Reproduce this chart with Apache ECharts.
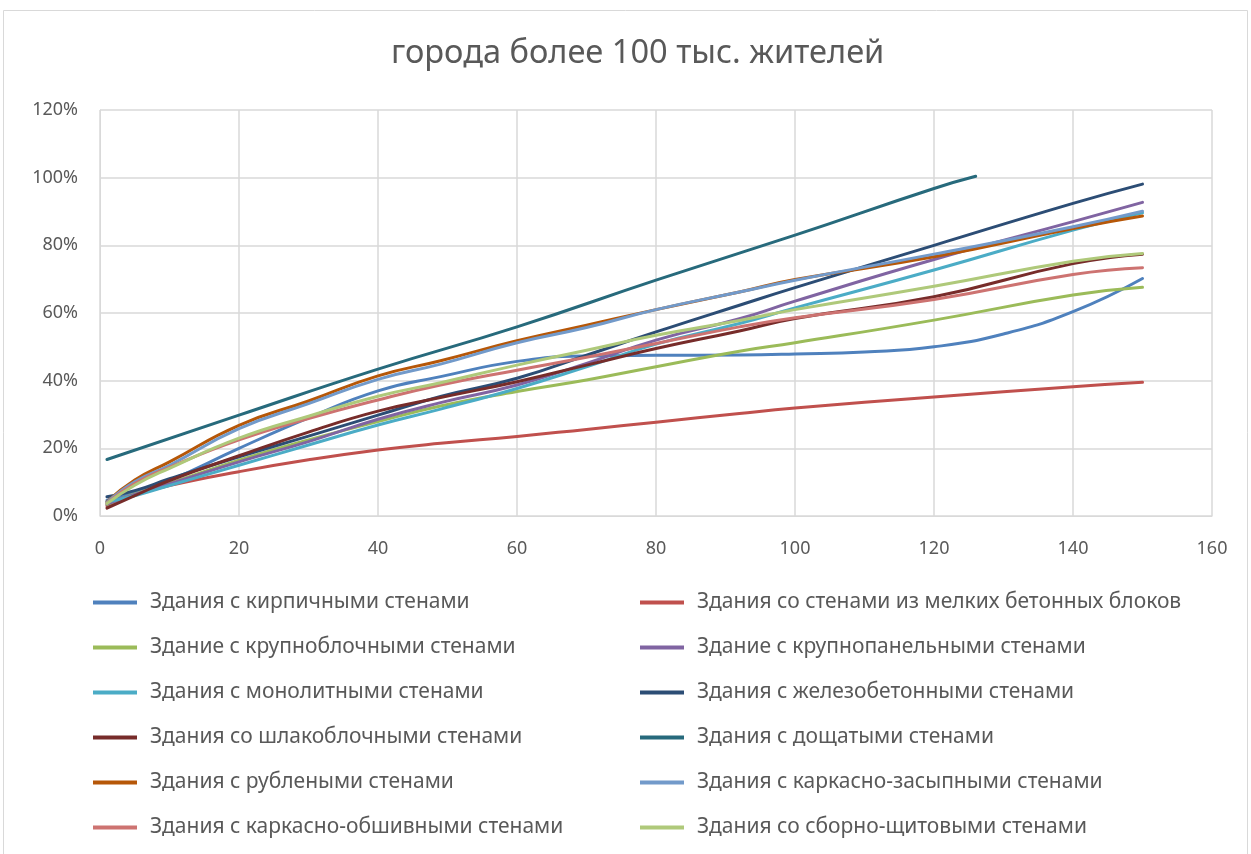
<!DOCTYPE html>
<html><head><meta charset="utf-8">
<script src="https://cdn.jsdelivr.net/npm/echarts@6/dist/echarts.min.js"></script>
<style>html,body{margin:0;padding:0;background:#fff}#c{width:1251px;height:854px}</style>
</head><body><div id="c"></div>
<script>
const titleText = "города более 100 тыс. жителей";
const xTicks = [0, 20, 40, 60, 80, 100, 120, 140, 160];
const yTicks = [0, 20, 40, 60, 80, 100, 120];

const seriesNames = [
  "Здания с кирпичными стенами",
  "Здания со стенами из мелких бетонных блоков",
  "Здание с крупноблочными стенами",
  "Здание с крупнопанельными стенами",
  "Здания с монолитными стенами",
  "Здания с железобетонными стенами",
  "Здания со шлакоблочными стенами",
  "Здания с дощатыми стенами",
  "Здания с рублеными стенами",
  "Здания с каркасно-засыпными стенами",
  "Здания с каркасно-обшивными стенами",
  "Здания со сборно-щитовыми стенами"
];
const seriesColors = ["#4F81BD","#C0504D","#9BBB59","#8064A2","#4BACC6","#2C4D75",
  "#772C2A","#276A7C","#B65708","#729ACA","#CD7371","#AFC97A"];

const xCommon = [1, 5, 10, 20, 30, 40, 49, 60, 70, 80, 92, 100, 120, 140, 150];
const xBrick  = [1, 5, 10, 20, 30, 40, 49, 60, 70, 80, 92, 100, 110, 120, 130, 140, 150];
const xBoard  = [1, 20, 40, 60, 80, 100, 120, 126];

const yBrick      = [4.7, 7, 10.5, 20, 29, 37, 41.2, 45.7, 47.3, 47.5, 47.6, 47.9, 48.5, 50, 53.8, 60.4, 70.2];
const ySmallBlock = [3, 6.2, 9, 13.1, 16.6, 19.5, 21.5, 23.5, 25.6, 27.7, 30.3, 31.9, 35.2, 38.2, 39.5];
const yLargeBlock = [3.4, 6.5, 9.7, 16.5, 22.5, 27.9, 32.5, 36.8, 40.2, 44.1, 48.7, 51.2, 57.9, 65.3, 67.6];
const yPanel      = [3.5, 6.4, 9.5, 16, 22, 28.6, 33.5, 38.7, 45.1, 52, 58.3, 63.5, 75.8, 87, 92.7];
const yMonolith   = [4.2, 6, 9, 15, 21, 26.9, 31.6, 37.7, 44.1, 50.8, 56.9, 61.5, 72.7, 84.5, 89.6];
const yConcrete   = [5.7, 7.5, 11, 17.5, 23.6, 29.8, 35.3, 40.7, 47.5, 54.4, 62.3, 67.5, 80, 92.4, 98.1];
const ySlag       = [2.3, 6, 10.5, 17.8, 24.8, 31, 35, 39.7, 44.6, 49.5, 54.7, 58.4, 64.8, 74.6, 77.4];
const yBoard      = [16.7, 29.8, 43.4, 55.9, 69.7, 83, 96.8, 100.4];
const yLog        = [4.2, 10.6, 16, 26.8, 34, 41.4, 45.9, 51.8, 56.4, 61, 66.2, 69.9, 76.6, 85, 88.7];
const yFrameFill  = [4, 10.1, 15, 25.8, 33.2, 40.4, 44.9, 51.2, 55.7, 61, 66.2, 69.7, 77.4, 85.5, 90.1];
const yFrameClad  = [3.8, 9.6, 14.4, 22.5, 28.8, 34.3, 38.7, 43.1, 46.9, 51, 55.9, 58.6, 64, 71.4, 73.4];
const yPrefab     = [3.7, 9.1, 14.1, 23, 29.5, 35.4, 39.4, 44.6, 49, 53.4, 57.8, 61, 67.9, 75.3, 77.6];

const seriesX = [xBrick, xCommon, xCommon, xCommon, xCommon, xCommon, xCommon, xBoard, xCommon, xCommon, xCommon, xCommon];
const seriesY = [yBrick, ySmallBlock, yLargeBlock, yPanel, yMonolith, yConcrete, ySlag, yBoard, yLog, yFrameFill, yFrameClad, yPrefab];

const FONT = '"Noto Sans", sans-serif';
const TXT = '#595959';

const chart = echarts.init(document.getElementById('c'), null, {renderer: 'canvas'});
const series = seriesNames.map((n, i) => ({
  name: n, type: 'line', smooth: true, showSymbol: false, symbol: 'none',
  color: seriesColors[i],
  lineStyle: {width: 3, color: seriesColors[i], cap: 'round', join: 'round'},
  data: seriesX[i].map((x, k) => [x, seriesY[i][k]]),
  animation: false
}));

const legendCommon = {
  orient: 'vertical', itemWidth: 44, itemHeight: 4, itemGap: 24,
  icon: 'rect',
  textStyle: {fontFamily: FONT, fontSize: 21, color: TXT, padding: [0,0,0,8]},
  selectedMode: false
};

chart.setOption({
  backgroundColor: '#fff',
  animation: false,
  title: {text: titleText, left: 386, top: 32,
    textStyle: {fontFamily: FONT, fontSize: 32.6, fontWeight: 'normal', color: TXT}},
  graphic: [{type: 'rect', shape: {x: 3.5, y: 10.5, width: 1244, height: 850},
    style: {fill: 'none', stroke: '#D9D9D9', lineWidth: 1}, silent: true}],
  grid: {left: 100, right: 39, top: 110, bottom: 338, containLabel: false},
  xAxis: {type: 'value', min: xTicks[0], max: xTicks[xTicks.length-1], interval: 20,
    axisLine: {show: true, lineStyle: {color: '#D9D9D9', width: 1}},
    axisTick: {show: false},
    splitLine: {show: true, lineStyle: {color: '#D9D9D9', width: 1.5}},
    axisLabel: {fontFamily: FONT, fontSize: 18, color: TXT, margin: 24}},
  yAxis: {type: 'value', min: yTicks[0], max: yTicks[yTicks.length-1], interval: 20,
    axisLine: {show: true, lineStyle: {color: '#D9D9D9', width: 1}},
    axisTick: {show: false},
    splitLine: {show: true, lineStyle: {color: '#D9D9D9', width: 1.5}},
    axisLabel: {fontFamily: FONT, fontSize: 18, color: TXT, margin: 22, formatter: '{value}%'}},
  legend: [
    Object.assign({}, legendCommon, {left: 88, top: 587, data: seriesNames.filter((n, i) => i % 2 === 0)}),
    Object.assign({}, legendCommon, {left: 635, top: 587, data: seriesNames.filter((n, i) => i % 2 === 1)})
  ],
  series: series
});
</script></body></html>
